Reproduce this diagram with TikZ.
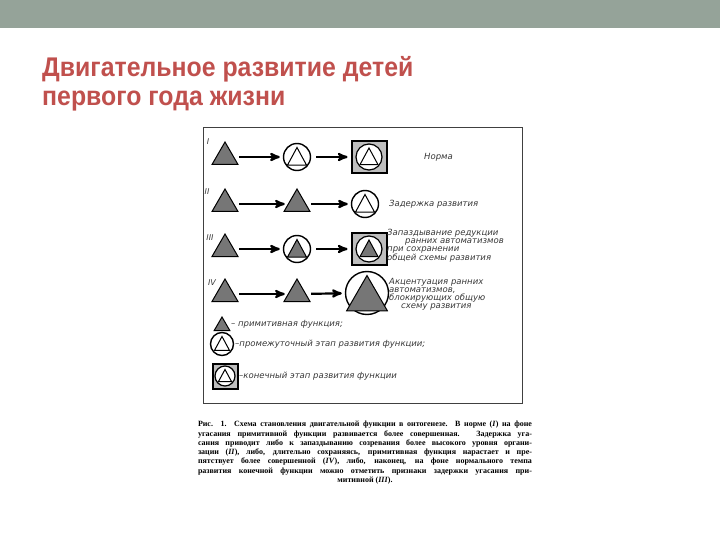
\documentclass[tikz,border=0pt]{standalone}
\usepackage{fontspec}
\setmainfont{Liberation Serif}
\setsansfont{Liberation Sans}
\newfontfamily\hand{DejaVu Sans}
\newfontfamily\headfont{Liberation Sans}[FakeStretch=0.92]
\usetikzlibrary{arrows,shapes.geometric,positioning}

\definecolor{headgreen}{RGB}{149,163,153}
\definecolor{titlered}{RGB}{192,80,77}
\definecolor{trigray}{RGB}{118,118,118}
\definecolor{boxgray}{RGB}{190,190,190}
\definecolor{inkgray}{RGB}{55,55,55}

% small white/grey triangle inside circle or box
\newcommand{\innertri}[2]{\draw[line width=1pt,fill=#1]
  ([shift={(0,#2)}]path picture bounding box.center)
  -- ([shift={(-#2,-0.85*#2)}]path picture bounding box.center)
  -- ([shift={(#2,-0.85*#2)}]path picture bounding box.center) -- cycle;}
\newcommand{\stagedisc}[1]{\fill[white] (path picture bounding box.center) circle (#1);
  \draw[line width=1.2pt] (path picture bounding box.center) circle (#1);}
\newcommand{\capline}[1]{\makebox[334pt][s]{#1}}

\begin{document}
\begin{tikzpicture}[x=1pt,y=1pt,node distance=72pt]
  \tikzstyle{prim}=[regular polygon,regular polygon sides=3,draw=black,line width=1pt,
                    fill=trigray,minimum size=30pt,inner sep=0pt]
  \tikzstyle{midstage}=[circle,draw=black,line width=1.4pt,minimum size=27pt,inner sep=0pt,
                        path picture={\innertri{white}{9.5}}]
  \tikzstyle{midgray}=[midstage,path picture={\innertri{trigray}{9.5}}]
  \tikzstyle{endstage}=[rectangle,draw=black,line width=2pt,fill=boxgray,minimum width=35pt,
                        minimum height=32pt,inner sep=0pt,path picture={\stagedisc{13}\innertri{white}{9}}]
  \tikzstyle{endgray}=[endstage,path picture={\stagedisc{13}\innertri{trigray}{9}}]
  \tikzstyle{devarrow}=[->,>=stealth',line width=2.2pt,shorten <=5pt,shorten >=3pt]
  \tikzstyle{note}=[font=\hand\itshape\fontsize{8.5}{8}\selectfont,text=inkgray,align=left,inner sep=0pt]
  \tikzstyle{rowno}=[font=\hand\itshape\fontsize{8}{8}\selectfont,text=inkgray,inner sep=0pt]
  \tikzstyle{headline}=[anchor=base west,inner sep=0pt,text=titlered,
                        font=\headfont\bfseries\fontsize{27}{30}\selectfont]

  \useasboundingbox (0,0) rectangle (720,-540);
  \fill[headgreen] (0,0) rectangle (720,-28);
  \node[headline] (title1) at (42,-77) {Двигательное развитие детей};
  \node[headline] (title2) at (42,-106) {первого года жизни};

  % frame of the figure
  \draw[line width=0.8pt,black!75] (203,-127) rectangle (522,-403);

  % row I
  \node[prim]     (t1) at (225,-157) {};
  \node[midstage] (m1) [right of=t1] {};
  \node[endstage] (e1) [right of=m1] {};
  % row II
  \node[prim]     (t2) at (225,-204) {};
  \node[prim]     (m2) [right of=t2] {};
  \node[midstage] (e2) [right of=m2,xshift=-4pt] {};
  % row III
  \node[prim]     (t3) at (225,-249) {};
  \node[midgray]  (m3) [right of=t3] {};
  \node[endgray]  (e3) [right of=m3] {};
  % row IV
  \node[prim]     (t4) at (225,-294) {};
  \node[prim]     (m4) [right of=t4] {};
  \node[circle,draw=black,line width=1.4pt,minimum size=43pt,inner sep=0pt]
                  (e4c) at (367,-293) {};
  \node[prim,minimum size=47pt] (e4t) at (367,-299) {};

  \path (t1) edge[devarrow] (m1)
        (m1) edge[devarrow] (e1)
        (t2) edge[devarrow] (m2)
        (m2) edge[devarrow] (e2)
        (t3) edge[devarrow] (m3)
        (m3) edge[devarrow] (e3)
        (t4) edge[devarrow] (m4)
        (m4) edge[devarrow] (e4c);

  \node[rowno] (n1) at (208,-142) {I};
  \node[rowno] (n2) at (207,-192) {II};
  \node[rowno] (n3) at (210,-238) {III};
  \node[rowno] (n4) at (212,-283) {IV};

  \node[note,anchor=west] (l1) at (424,-157) {Норма};
  \node[note,anchor=west] (l2) at (389,-204) {Задержка развития};
  \node[note,anchor=north west] (l3) at (387,-229)
    {Запаздывание редукции\\ \hspace*{18pt}ранних автоматизмов\\ при сохранении\\ общей схемы развития};
  \node[note,anchor=north west] (l4) at (389,-278)
    {Акцентуация ранних\\ автоматизмов,\\ блокирующих общую\\ \hspace*{12pt}схему развития};

  % legend
  \node[prim,minimum size=18pt] (kp) at (222,-326) {};
  \node[midstage,minimum size=23pt,path picture={\innertri{white}{7.5}}] (km) at (222,-344) {};
  \node[endstage,minimum width=25pt,minimum height=25pt,
        path picture={\stagedisc{10}\innertri{white}{6.5}}] (ke) at (225,-376) {};
  \node[note,anchor=west] (kp text) at (231,-324) {– примитивная функция;};
  \node[note,anchor=west] (km text) at (235,-344) {–промежуточный этап развития функции;};
  \node[note,anchor=west] (ke text) at (239,-376) {–конечный этап развития функции};

  % caption under the figure
  \node[anchor=north,align=center,inner sep=0pt,font=\bfseries\fontsize{8}{9.3}\selectfont]
    (caption) at (365,-421)
    {\capline{Рис. 1. Схема становления двигательной функции в онтогенезе. В норме (\textit{I}) на фоне}\\
     \capline{угасания примитивной функции развивается более совершенная. Задержка уга-}\\
     \capline{сания приводит либо к запаздыванию созревания более высокого уровня органи-}\\
     \capline{зации (\textit{II}), либо, длительно сохраняясь, примитивная функция нарастает и пре-}\\
     \capline{пятствует более совершенной (\textit{IV}), либо, наконец, на фоне нормального темпа}\\
     \capline{развития конечной функции можно отметить признаки задержки угасания при-}\\
     митивной (\textit{III}).};
\end{tikzpicture}
\end{document}
